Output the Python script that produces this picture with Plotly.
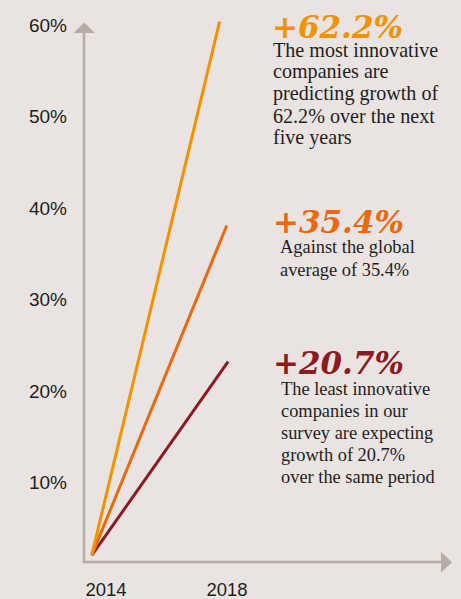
import plotly.graph_objects as go

# ---- data ----
years = [2014, 2018]
series_names = ["Most innovative", "Global average", "Least innovative"]
start_values = [2.0, 2.0, 2.0]
end_values = [60.4, 38.1, 23.2]
end_years = [2017.75, 2017.96, 2018.0]
y_tick_values = [10, 20, 30, 40, 50, 60]
y_tick_labels = ["10%", "20%", "30%", "40%", "50%", "60%"]
x_tick_labels = ["2014", "2018"]
headlines = ["+62.2%", "+35.4%", "+20.7%"]
bodies = [
    ["The most innovative", "companies are", "predicting growth of",
     "62.2% over the next", "five years"],
    ["Against the global", "average of 35.4%"],
    ["The least innovative", "companies in our", "survey are expecting",
     "growth of 20.7%", "over the same period"],
]

# ---- style ----
colors = ["#f39200", "#e9690f", "#8c1a21"]
bg = "#e9e4e1"
axis_col = "#b5aca5"
W, H = 461, 599
L, R, T, B = 84, 452, 15, 562  # plot area in pixels
pw, ph = R - L, B - T


def px(x):
    return (x - L) / pw


def py(y):
    return (B - y) / ph


fig = go.Figure()
for i in [2, 1, 0]:
    fig.add_trace(go.Scatter(
        x=[years[0], end_years[i]], y=[start_values[i], end_values[i]],
        mode="lines", line=dict(color=colors[i], width=3),
        name=series_names[i], showlegend=False, hoverinfo="skip"))

shapes = [
    dict(type="line", xref="paper", yref="paper", x0=0, x1=0, y0=py(563), y1=py(32),
         line=dict(color=axis_col, width=2.5)),
    dict(type="path", xref="paper", yref="paper",
         path=f"M {px(73.5)} {py(33)} L {px(95)} {py(33)} L {px(84.2)} {py(22.5)} Z",
         fillcolor=axis_col, line=dict(width=0)),
    dict(type="line", xref="paper", yref="paper", x0=px(82.8), x1=px(442), y0=0, y1=0,
         line=dict(color=axis_col, width=2.5)),
    dict(type="path", xref="paper", yref="paper",
         path=f"M {px(441)} {py(552)} L {px(441)} {py(572.5)} L {px(452)} {py(562.2)} Z",
         fillcolor=axis_col, line=dict(width=0)),
]

annotations = []
head_pos = [(271, 27), (272, 222), (272, 363)]
body_pos = [(272, 55), (279, 253), (280, 394)]
body_sizes = [20.1, 18.4, 18.4]
pitch = 22.1
for i in range(3):
    hx, hy = head_pos[i]
    annotations.append(dict(
        xref="paper", yref="paper", x=px(hx), y=py(hy), xanchor="left", yanchor="middle",
        text=f"<b><i>{headlines[i]}</i></b>", showarrow=False, borderpad=0,
        font=dict(family="DejaVu Serif", size=31, color=colors[i])))
    bx, by = body_pos[i]
    for j, line in enumerate(bodies[i]):
        base = by + j * pitch
        annotations.append(dict(
            xref="paper", yref="paper", x=px(bx), y=py(base - 5.5), xanchor="left",
            yanchor="middle", text=line, showarrow=False, borderpad=0,
            font=dict(family="Liberation Serif", size=body_sizes[i], color="#1e1e1e")))

fig.update_layout(
    width=W, height=H, margin=dict(l=L, r=W - R, t=T, b=H - B, pad=0),
    paper_bgcolor=bg, plot_bgcolor=bg, shapes=shapes, annotations=annotations,
    xaxis=dict(range=[2013.774, 2024.566], showgrid=False, zeroline=False, showline=False,
               tickvals=[years[0] + 0.42, years[1] - 0.03], ticktext=x_tick_labels,
               ticks="", ticklabelstandoff=14, automargin=False,
               tickfont=dict(family="Liberation Sans", size=18.5, color="#1e1e1e")),
    yaxis=dict(range=[1.28, 61.13], showgrid=False, zeroline=False, showline=False,
               tickvals=y_tick_values, ticktext=y_tick_labels, ticks="",
               ticklabelstandoff=16, automargin=False,
               tickfont=dict(family="Liberation Sans", size=19, color="#1e1e1e")),
)

fig.write_html(
    "out.html",
    config={"displayModeBar": False},
    post_script=f"document.body.style.margin='0';document.body.style.background='{bg}';",
)
